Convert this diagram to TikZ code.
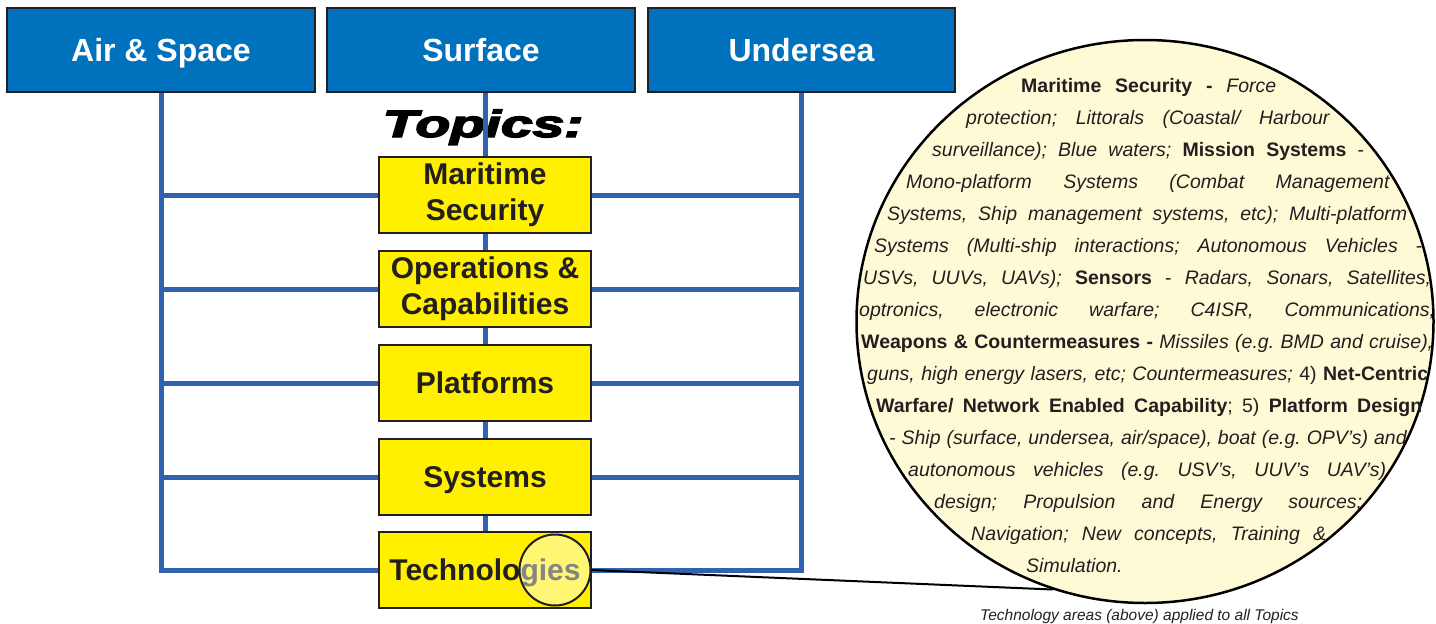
\documentclass[tikz,border=0pt]{standalone}
\usepackage{graphicx}
\usepackage{fontspec}
\setmainfont{Liberation Sans}
\newfontfamily\topicsfont{Liberation Sans}[BoldItalicFeatures={FakeBold=3.5}]
\usetikzlibrary{shapes.geometric,backgrounds}
\definecolor{boxblue}{HTML}{0071BC}
\definecolor{lineblue}{HTML}{3062B2}
\definecolor{topicyellow}{HTML}{FFF000}
\definecolor{cream}{HTML}{FFFAD6}
\definecolor{ink}{HTML}{231F20}
\frenchspacing
\begin{document}
\begin{tikzpicture}[x=1pt,y=-1pt,
  header/.style={draw=ink,line width=2.5pt,fill=boxblue,minimum width=308pt,minimum height=84pt,inner sep=0pt,text=white,font=\bfseries\fontsize{32}{36}\selectfont,text height=23pt,text depth=0pt},
  topic/.style={draw=ink,line width=2pt,fill=topicyellow,minimum width=212pt,minimum height=76pt,inner sep=0pt,text=ink,font=\bfseries\fontsize{30}{36}\selectfont},
  topicone/.style={topic,text height=21.5pt,text depth=0pt},
  topictwo/.style={topic,align=center},
  link/.style={draw=lineblue,line width=5pt,line join=miter},
  circtext/.style={anchor=base west,inner sep=0pt,text=ink,font=\fontsize{19.5}{32}\selectfont},
]
\useasboundingbox (0,0) rectangle (1436,624);

% column headers
\node[header] (air) at (161,50) {Air \& Space};
\node[header] (surf) at (481,50) {Surface};
\node[header,minimum width=307pt] (und) at (801.5,50) {Undersea};

% topics
\node[topictwo] (ms) at (485,195) {Maritime\\Security};
\node[topictwo] (ops) at (485,289) {Operations \&\\Capabilities};
\node[topicone] (plat) at (485,383) {Platforms};
\node[topicone] (sys) at (485,477) {Systems};
\node[topicone] (tech) at (485,570) {Technologies};

\begin{scope}[on background layer]
  \node[anchor=base,inner sep=0pt,text=black,font=\topicsfont\bfseries\itshape\fontsize{38}{40}\selectfont] (topics) at (483,137) {\scalebox{1.5}[1]{Topics:}};
  \draw[link] (air.south) -- (air.south |- tech.center) -- (tech.west);
  \draw[link] (und.south) -- (und.south |- tech.center) -- (tech.east);
  \foreach \n in {ms,ops,plat,sys}{
    \draw[link] (air.south |- \n.center) -- (\n.west);
    \draw[link] (und.south |- \n.center) -- (\n.east);
  }
  \draw[link] (surf.south -| tech.north) -- (tech.north);
\end{scope}

% magnifier
\node[circle,minimum size=71pt,inner sep=0pt,draw=ink,line width=2pt,fill=white,fill opacity=0.45] (mag) at (555,570) {};

% big circle
\node[ellipse,minimum width=577pt,minimum height=563pt,inner sep=0pt,draw=black,line width=2.5pt,fill=cream] (bigc) at (1145,321.5) {};
\draw[line width=2pt,black] (mag.east) -- (bigc.251);

% circle text
\node[circtext] (t1) at (1021,92) {\makebox[255pt][s]{\textbf{Maritime Security -} \textit{Force}}};
\node[circtext] (t2) at (966,124) {\makebox[364pt][s]{\textit{protection; Littorals (Coastal/ Harbour}}};
\node[circtext] (t3) at (932,156) {\makebox[432pt][s]{\textit{surveillance); Blue waters;} \textbf{Mission Systems} -}};
\node[circtext] (t4) at (906,188) {\makebox[484pt][s]{\textit{Mono-platform Systems (Combat Management}}};
\node[circtext] (t5) at (887,220) {\makebox[520pt][s]{\textit{Systems, Ship management systems, etc); Multi-platform}}};
\node[circtext] (t6) at (874,252) {\makebox[548pt][s]{\textit{Systems (Multi-ship interactions; Autonomous Vehicles -}}};
\node[circtext] (t7) at (863,284) {\makebox[568pt][s]{\textit{USVs, UUVs, UAVs);} \textbf{Sensors} - \textit{Radars, Sonars, Satellites,}}};
\node[circtext] (t8) at (859,316) {\makebox[576pt][s]{\textit{optronics, electronic warfare; C4ISR, Communications;}}};
\node[circtext] (t9) at (861,348) {\makebox[572pt][s]{\textbf{Weapons \& Countermeasures -} \textit{Missiles (e.g. BMD and cruise),}}};
\node[circtext] (t10) at (867,380) {\makebox[561pt][s]{\textit{guns, high energy lasers, etc; Countermeasures;} 4) \textbf{Net-Centric}}};
\node[circtext] (t11) at (876,412) {\makebox[546pt][s]{\textbf{Warfare/ Network Enabled Capability}; 5) \textbf{Platform Design}}};
\node[circtext] (t12) at (889,444) {\makebox[518pt][s]{\textit{- Ship (surface, undersea, air/space), boat (e.g. OPV’s) and}}};
\node[circtext] (t13) at (908,476) {\makebox[478pt][s]{\textit{autonomous vehicles (e.g. USV’s, UUV’s UAV’s)}}};
\node[circtext] (t14) at (934,508) {\makebox[428pt][s]{\textit{design; Propulsion and Energy sources;}}};
\node[circtext] (t15) at (971,540) {\makebox[355pt][s]{\textit{Navigation; New concepts, Training \&}}};
\node[circtext] (t16) at (1026,572) {\textit{Simulation.}};

\node[anchor=base,inner sep=0pt,text=ink,font=\itshape\fontsize{15.5}{18}\selectfont] (cap) at (1139.5,620) {Technology areas (above) applied to all Topics};
\end{tikzpicture}
\end{document}
